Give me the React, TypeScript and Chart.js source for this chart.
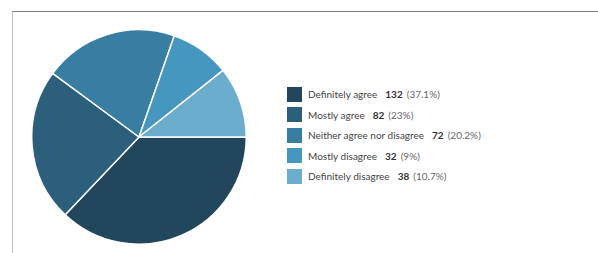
import React, { useEffect, useRef } from "react";
import { Chart, registerables } from "chart.js";

Chart.register(...registerables);

const categories = [
  "Definitely agree",
  "Mostly agree",
  "Neither agree nor disagree",
  "Mostly disagree",
  "Definitely disagree",
];
const counts = [132, 82, 72, 32, 38];
const percents = ["37.1%", "23%", "20.2%", "9%", "10.7%"];
const colors = ["#22465b", "#2b5f7c", "#387ea2", "#4697c0", "#6badcd"];

export default function App() {
  const ref = useRef<HTMLCanvasElement>(null);

  useEffect(() => {
    const chart = new Chart(ref.current!, {
      type: "pie",
      data: {
        labels: categories,
        datasets: [
          {
            data: counts,
            backgroundColor: colors,
            borderColor: "#ffffff",
            borderWidth: 1.5,
          },
        ],
      },
      options: {
        animation: false,
        responsive: false,
        rotation: 90,
        layout: { padding: 0 },
        plugins: { legend: { display: false }, tooltip: { enabled: false } },
      },
    });
    return () => chart.destroy();
  }, []);

  return (
    <div
      style={{
        position: "fixed",
        left: 0,
        top: 0,
        width: 598,
        height: 253,
        background: "#fff",
        overflow: "hidden",
        fontFamily: "Lato, sans-serif",
      }}
    >
      <div
        style={{
          position: "absolute",
          left: 12,
          top: 11,
          width: 600,
          height: 260,
          borderTop: "1.5px solid #7a7a7a",
          borderLeft: "1.5px solid #bdbdbd",
          boxSizing: "border-box",
        }}
      />
      <canvas
        ref={ref}
        width={216}
        height={216}
        style={{ position: "absolute", left: 31, top: 29, width: 216, height: 216 }}
      />
      <div style={{ position: "absolute", left: 287, top: 84 }}>
        {categories.map((c, i) => (
          <div
            key={c}
            style={{
              display: "flex",
              alignItems: "center",
              height: 20.5,
              fontSize: 10,
              color: "#444",
              whiteSpace: "nowrap",
            }}
          >
            <span
              style={{
                display: "inline-block",
                width: 15,
                height: 15,
                background: colors[i],
                marginRight: 6,
              }}
            />
            <span>{c}</span>
            <span style={{ fontWeight: 700, marginLeft: 8, color: "#333" }}>{counts[i]}</span>
            <span style={{ marginLeft: 4, color: "#666" }}>({percents[i]})</span>
          </div>
        ))}
      </div>
    </div>
  );
}
